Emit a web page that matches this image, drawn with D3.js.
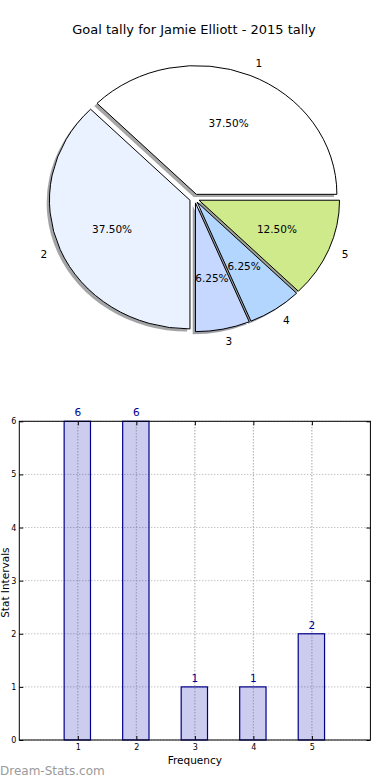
<!DOCTYPE html>
<html>
<head>
<meta charset="utf-8">
<script src="https://cdn.jsdelivr.net/npm/d3@7"></script>
<style>
  body { margin: 0; background: #fff; }
  svg { display: block; font-family: "DejaVu Sans", sans-serif; }
</style>
</head>
<body>
<div id="chart-wrapper"></div>
<script>

// data
const titleText = "Goal tally for Jamie Elliott - 2015 tally"
const categories = ["1", "2", "3", "4", "5"]
const tallies = [6, 6, 1, 1, 2]
const sliceColors = ["#ffffff", "#ebf2ff", "#c6d8ff", "#b3d6ff", "#cfea8b"]
const yTicks = [0, 1, 2, 3, 4, 5, 6]
const xTicks = [1, 2, 3, 4, 5]

async function drawGoalTally() {

  const width = 390
  const height = 780

  const svg = d3.select("#chart-wrapper")
    .append("svg")
      .attr("width", width)
      .attr("height", height)

  // title
  svg.append("text")
      .attr("x", 194)
      .attr("y", 34)
      .attr("text-anchor", "middle")
      .attr("font-size", 13)
      .attr("fill", "#000")
      .text(titleText)

  // ---- pie (matplotlib style, slightly elliptical, exploded, shadowed)
  const cx = 194.5, cy = 198.5
  const rx = 140.5, ry = 128.7
  const explode = 0.035
  const squash = ry / rx

  const pie = d3.pie()
      .sort(null)
      .startAngle(Math.PI / 2)        // 3 o'clock
      .endAngle(Math.PI / 2 - 2 * Math.PI) // counter clockwise
      .value(d => d)

  const arcs = pie(tallies)
  const total = d3.sum(tallies)

  const arc = d3.arc().innerRadius(0).outerRadius(rx)
  const pctArc = d3.arc().innerRadius(rx * 0.6).outerRadius(rx * 0.6)
  const labelArc = d3.arc().innerRadius(rx * 1.1).outerRadius(rx * 1.1)

  const mid = d => (d.startAngle + d.endAngle) / 2
  const offX = d => explode * rx * Math.sin(mid(d))
  const offY = d => -explode * ry * Math.cos(mid(d))

  const pieGroup = svg.append("g")

  // shadows first
  pieGroup.selectAll(".shadow")
    .data(arcs)
    .join("path")
      .attr("class", "shadow")
      .attr("transform", d => `translate(${cx + offX(d) - 2.8},${cy + offY(d) + 2.6}) scale(1,${squash})`)
      .attr("d", arc)
      .attr("fill", (d, i) => {
        const c = d3.rgb(sliceColors[i])
        return d3.rgb(c.r * 0.3, c.g * 0.3, c.b * 0.3)
      })
      .attr("fill-opacity", 0.5)

  pieGroup.selectAll(".slice")
    .data(arcs)
    .join("path")
      .attr("class", "slice")
      .attr("transform", d => `translate(${cx + offX(d)},${cy + offY(d)}) scale(1,${squash})`)
      .attr("d", arc)
      .attr("fill", (d, i) => sliceColors[i])
      .attr("stroke", "#000")
      .attr("stroke-width", 1)
      .attr("vector-effect", "non-scaling-stroke")

  // percent labels
  pieGroup.selectAll(".pct")
    .data(arcs)
    .join("text")
      .attr("class", "pct")
      .attr("x", d => cx + offX(d) + pctArc.centroid(d)[0])
      .attr("y", d => cy + offY(d) + pctArc.centroid(d)[1] * squash)
      .attr("dy", "0.35em")
      .attr("text-anchor", "middle")
      .attr("font-size", 10.5)
      .text(d => (d.value / total * 100).toFixed(2) + "%")

  // category labels
  pieGroup.selectAll(".cat")
    .data(arcs)
    .join("text")
      .attr("class", "cat")
      .attr("x", d => cx + offX(d) + labelArc.centroid(d)[0])
      .attr("y", d => cy + offY(d) + labelArc.centroid(d)[1] * squash)
      .attr("dy", "0.35em")
      .attr("text-anchor", d => Math.sin(mid(d)) > 0 ? "start" : "end")
      .attr("font-size", 10.5)
      .text((d, i) => categories[i])

  // ---- bar chart
  const left = 19.3, right = 370.4, top = 421.3, bottom = 740

  const xScale = d3.scaleLinear()
      .domain([0, 6])
      .range([left, right])

  const yScale = d3.scaleLinear()
      .domain([0, 6])
      .range([bottom, top])

  const barGroup = svg.append("g")

  // grid lines
  barGroup.append("g")
    .selectAll("line")
    .data(yTicks)
    .join("line")
      .attr("x1", left)
      .attr("x2", right)
      .attr("y1", d => yScale(d))
      .attr("y2", d => yScale(d))
      .attr("stroke", "#a8a8a8")
      .attr("stroke-dasharray", "1,2")

  barGroup.append("g")
    .selectAll("line")
    .data(xTicks)
    .join("line")
      .attr("x1", d => xScale(d))
      .attr("x2", d => xScale(d))
      .attr("y1", top)
      .attr("y2", bottom)
      .attr("stroke", "#a8a8a8")
      .attr("stroke-dasharray", "1,2")

  // bars
  const barWidth = 0.45
  barGroup.append("g")
    .selectAll("rect")
    .data(tallies)
    .join("rect")
      .attr("x", (d, i) => xScale(+categories[i] - barWidth / 2) - 0.5)
      .attr("width", xScale(barWidth) - xScale(0))
      .attr("y", d => yScale(d))
      .attr("height", d => yScale(0) - yScale(d))
      .attr("fill", "#0000aa")
      .attr("fill-opacity", 0.2)
      .attr("stroke", "#00008b")
      .attr("stroke-width", 1.2)

  // grid lines show through the bars
  barGroup.append("g")
    .selectAll("line")
    .data(xTicks)
    .join("line")
      .attr("x1", d => xScale(d))
      .attr("x2", d => xScale(d))
      .attr("y1", top)
      .attr("y2", bottom)
      .attr("stroke", "#a0a0a8")
      .attr("stroke-dasharray", "1,2")
      .attr("stroke-opacity", 0.7)

  // value labels
  barGroup.append("g")
    .selectAll("text")
    .data(tallies)
    .join("text")
      .attr("x", (d, i) => xScale(+categories[i]))
      .attr("y", d => yScale(d) - 5)
      .attr("text-anchor", "middle")
      .attr("font-size", 10.5)
      .attr("fill", "#00008b")
      .text(d => d)

  // axes frame
  barGroup.append("rect")
      .attr("x", left)
      .attr("y", top)
      .attr("width", right - left)
      .attr("height", bottom - top)
      .attr("fill", "none")
      .attr("stroke", "#000")
      .attr("stroke-width", 1)

  const yAxis = d3.axisLeft(yScale)
      .tickValues(yTicks)
      .tickSize(-4)
      .tickPadding(3)
      .tickFormat(d3.format("d"))

  const xAxis = d3.axisBottom(xScale)
      .tickValues(xTicks)
      .tickSize(-4)
      .tickPadding(4)
      .tickFormat(d3.format("d"))

  barGroup.append("g")
      .attr("transform", `translate(${left},0)`)
      .call(yAxis)
  barGroup.append("g")
      .attr("transform", `translate(0,${bottom})`)
      .call(xAxis)

  // mirrored ticks on right and top
  barGroup.append("g")
      .attr("transform", `translate(${right},0)`)
      .call(d3.axisRight(yScale).tickValues(yTicks).tickSize(-4).tickFormat(""))
  barGroup.append("g")
      .attr("transform", `translate(0,${top})`)
      .call(d3.axisTop(xScale).tickValues(xTicks).tickSize(-4).tickFormat(""))

  barGroup.selectAll(".domain").remove()
  barGroup.selectAll(".tick text")
      .attr("font-family", "DejaVu Sans, sans-serif")
      .attr("font-size", 8)
      .attr("fill", "#000")

  // axis titles
  svg.append("text")
      .attr("x", xScale(3))
      .attr("y", 764)
      .attr("text-anchor", "middle")
      .attr("font-size", 10.5)
      .text("Frequency")

  svg.append("text")
      .attr("transform", `translate(9,${yScale(3) + 2}) rotate(-90)`)
      .attr("text-anchor", "middle")
      .attr("font-size", 10.5)
      .text("Stat Intervals")

  // watermark
  svg.append("text")
      .attr("x", 0)
      .attr("y", 775)
      .attr("font-size", 12)
      .attr("fill", "#9a9a9a")
      .text("Dream-Stats.com")
}

window.onload = function () {
  drawGoalTally()
}
</script>
</body>
</html>
